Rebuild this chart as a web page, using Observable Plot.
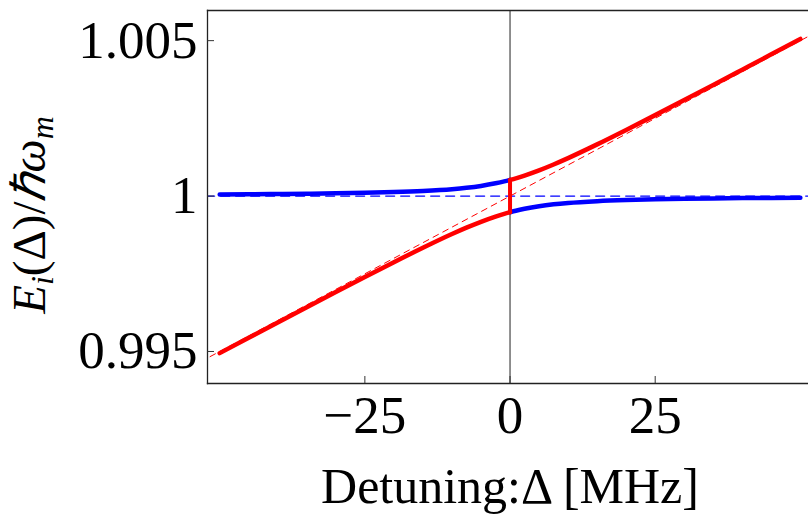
<!DOCTYPE html>
<html>
<head>
<meta charset="utf-8">
<script src="https://cdn.jsdelivr.net/npm/d3@7"></script>
<script src="https://cdn.jsdelivr.net/npm/@observablehq/plot@0.6"></script>
<style>
  html, body { margin: 0; padding: 0; background: #fff; }
  #chart { width: 808px; height: 524px; }
</style>
</head>
<body>
<div id="chart"></div>
<script>
// Detuning samples (MHz)
const xLeft  = [-50, -45, -40, -35, -30, -25, -20, -15, -10, -7.5, -5, -2.5, -1, 0];
const xRight = [0, 1, 2.5, 5, 7.5, 10, 15, 20, 25, 30, 35, 40, 45, 50];
// Red branch (lower on the left, upper on the right)
const redLeft  = [0.994947, 0.995441, 0.995934, 0.996424, 0.996912, 0.997396, 0.997873, 0.998337, 0.998779, 0.998984, 0.999173, 0.999340, 0.999428, 0.999480];
const redRight = [1.000520, 1.000572, 1.000660, 1.000827, 1.001016, 1.001221, 1.001663, 1.002127, 1.002604, 1.003088, 1.003576, 1.004067, 1.004559, 1.005054];
// Blue branch (upper on the left, lower on the right)
const blueLeft  = [1.000054, 1.000059, 1.000067, 1.000076, 1.000088, 1.000104, 1.000127, 1.000163, 1.000221, 1.000266, 1.000327, 1.000410, 1.000472, 1.000520];
const blueRight = [0.999480, 0.999528, 0.999590, 0.999673, 0.999734, 0.999779, 0.999837, 0.999873, 0.999896, 0.999912, 0.999924, 0.999934, 0.999941, 0.999947];
// Uncoupled (dashed) lines
const diagX = [-55, 55];
const diagY = [0.99450, 1.00550];
const flatX = [-55, 55];
const flatY = [1, 1];
// Ticks
const xTicks = [-25, 0, 25];
const xTickLabels = ["\u221225", "0", "25"];
const yTicks = [0.995, 1, 1.005];
const yTickLabels = ["0.995", "1", "1.005"];

const toRows = (xs, ys) => xs.map((x, i) => ({x, y: ys[i]}));
const redL = toRows(xLeft, redLeft);
const redR = toRows(xRight, redRight);
const blueL = toRows(xLeft, blueLeft);
const blueR = toRows(xRight, blueRight);
const jump = [{x1: xLeft[xLeft.length - 1], y1: redLeft[redLeft.length - 1], x2: xRight[0], y2: redRight[0]}];
const diag = toRows(diagX, diagY);
const flat = toRows(flatX, flatY);

const FONT = "'Liberation Serif', 'Times New Roman', serif";

const chart = Plot.plot({
  width: 808,
  height: 524,
  marginLeft: 207,
  marginRight: 0,
  marginTop: 10,
  marginBottom: 141,
  style: {fontFamily: FONT, background: "#fff", overflow: "visible"},
  x: {domain: [-52.1, 51.4]},
  y: {domain: [0.99397, 1.00597]},
  marks: [
    Plot.line(flat, {x: "x", y: "y", stroke: "#0000ff", strokeWidth: 1.2, strokeDasharray: "9,6", clip: true}),
    Plot.line(diag, {x: "x", y: "y", stroke: "#ff0000", strokeWidth: 1, strokeDasharray: "6,5", clip: true}),
    Plot.ruleX([0], {stroke: "#555", strokeWidth: 1.3}),
    Plot.line(blueL, {x: "x", y: "y", stroke: "#0000ff", strokeWidth: 4.5, curve: "monotone-x"}),
    Plot.line(blueR, {x: "x", y: "y", stroke: "#0000ff", strokeWidth: 4.5, curve: "monotone-x"}),
    Plot.line(redL, {x: "x", y: "y", stroke: "#ff0000", strokeWidth: 4.5, curve: "monotone-x"}),
    Plot.line(redR, {x: "x", y: "y", stroke: "#ff0000", strokeWidth: 4.5, curve: "monotone-x"}),
    Plot.link(jump, {x1: "x1", y1: "y1", x2: "x2", y2: "y2", stroke: "#ff0000", strokeWidth: 4}),
    Plot.frame({anchor: "left", stroke: "#222", strokeWidth: 1.3}),
    Plot.frame({anchor: "top", stroke: "#222", strokeWidth: 1.3}),
    Plot.frame({anchor: "bottom", stroke: "#222", strokeWidth: 1.3}),
    Plot.axisY(yTicks, {tickSize: 0, tickPadding: 10, fontSize: 53, fill: "#000", tickFormat: (d) => yTickLabels[yTicks.indexOf(d)], label: null}),
    Plot.axisY(yTicks, {tickSize: 7, dx: 7, stroke: "#333", tickFormat: () => "", label: null}),
    Plot.axisX(xTicks, {tickSize: 0, tickPadding: 12, fontSize: 53, fill: "#000", tickFormat: (d) => xTickLabels[xTicks.indexOf(d)], label: null}),
    Plot.axisX(xTicks, {tickSize: 7, dy: -7, stroke: "#333", tickFormat: () => "", label: null})
  ]
});

document.getElementById("chart").appendChild(chart);

const svg = d3.select(chart);
// x-axis title
svg.append("text")
  .attr("x", 510).attr("y", 503)
  .attr("text-anchor", "middle")
  .attr("font-family", FONT)
  .attr("font-size", 50)
  .attr("fill", "#000")
  .text("Detuning:\u0394 [MHz]");

// y-axis title with sub-scripts
const yt = svg.append("text")
  .attr("transform", "translate(45,215) rotate(-90)")
  .attr("text-anchor", "middle")
  .attr("font-family", FONT)
  .attr("font-size", 47)
  .attr("fill", "#000");
yt.append("tspan").attr("font-style", "italic").text("E");
yt.append("tspan").attr("font-style", "italic").attr("font-size", 32).attr("dy", 8).text("i");
yt.append("tspan").attr("dy", -8).text("(\u0394)/");
yt.append("tspan").attr("font-style", "italic").text("\u210F\u03C9");
yt.append("tspan").attr("font-style", "italic").attr("font-size", 32).attr("dy", 8).text("m");
</script>
</body>
</html>
